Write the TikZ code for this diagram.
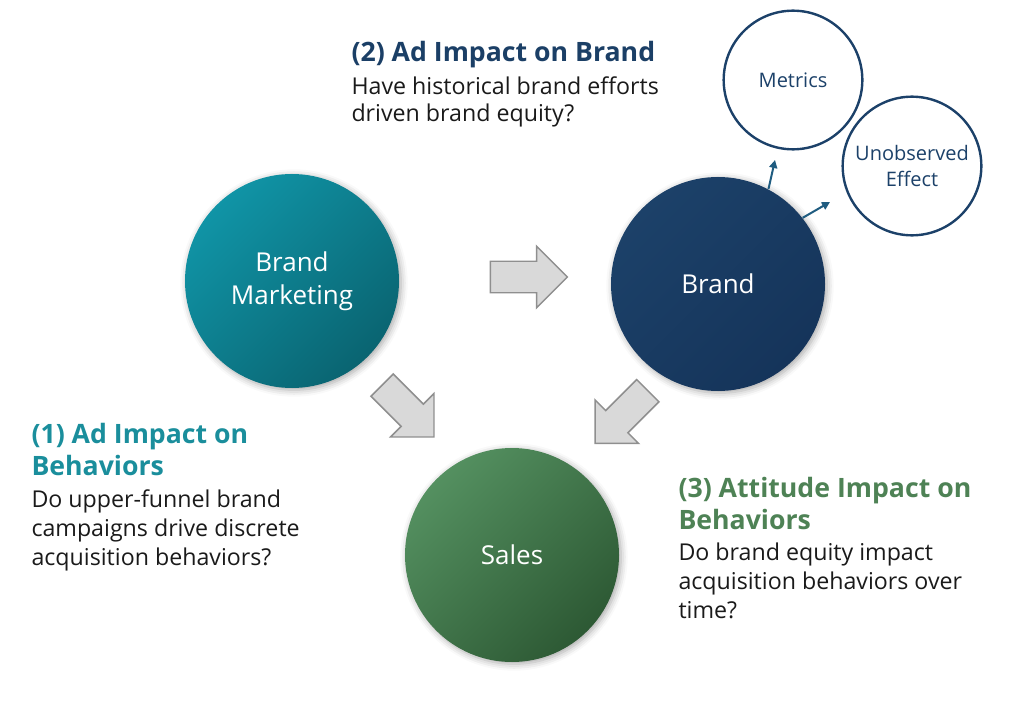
\documentclass[tikz,border=0pt]{standalone}
\usepackage{fontspec}
\setmainfont{Open Sans}
\usetikzlibrary{shapes.arrows,arrows.meta,shadows.blur}

\definecolor{tealbrand}{HTML}{1094A6}
\definecolor{tealdark}{HTML}{0A6471}
\definecolor{navybrand}{HTML}{1C4169}
\definecolor{navydark}{HTML}{15345A}
\definecolor{greensales}{HTML}{549060}
\definecolor{greendark}{HTML}{2D5934}
\definecolor{headteal}{HTML}{1A8E9C}
\definecolor{headnavy}{HTML}{1B3F66}
\definecolor{headgreen}{HTML}{4E8255}
\definecolor{arrowgray}{HTML}{D9D9D9}
\definecolor{arrowedge}{HTML}{8F8F8F}
\definecolor{pointer}{HTML}{1F5C80}
\definecolor{bodytext}{HTML}{1A1A1A}

\tikzset{every picture/.style={line width=0.75pt}}
\tikzset{
  bubble/.style={circle, minimum size=160.5pt, inner sep=0pt, align=center, text=white,
    font=\fontsize{19.5}{25}\selectfont,
    blur shadow={shadow xshift=1.5pt, shadow yshift=-1.5pt, shadow blur radius=5pt, shadow opacity=35}},
  outcome/.style={circle, draw=navybrand, line width=1.8pt, minimum size=104pt, inner sep=0pt,
    align=center, text=navybrand, font=\fontsize{15}{19.5}\selectfont},
  flowarrow/.style={single arrow, draw=arrowedge, fill=arrowgray, line width=1.1pt, inner sep=11.25pt,
    single arrow head extend=11.25pt, single arrow tip angle=90},
  pointerarrow/.style={draw=pointer, line width=1.5pt, -{Triangle[length=6pt,width=6pt]}},
  heading/.style={anchor=base west, inner sep=0pt, align=left, font=\fontsize{20}{23.5}\selectfont\bfseries},
  question/.style={anchor=base west, inner sep=0pt, align=left, text=bodytext, font=\fontsize{17.4}{21.75}\selectfont}
}

\begin{document}
\begin{tikzpicture}[x=0.75pt,y=0.75pt,yscale=-1,xscale=1]
		\useasboundingbox (0,0) rectangle (1024,702);
		
		%Circles
		\node [bubble, top color=tealbrand, bottom color=tealdark, shading angle=45] (marketing) at (292,281) {Brand\\Marketing};
		\node [bubble, top color=navybrand, bottom color=navydark, shading angle=45] (brand) at (718,284) {Brand};
		\node [bubble, top color=greensales, bottom color=greendark, shading angle=45] (sales) at (512,555) {Sales};
		
		\node [outcome] (metrics) at (793,80) {Metrics};
		\node [outcome] (unobserved) at (912,166) {Unobserved\\Effect};
		
		%Block arrows (centre sits on the shaft, not on the whole arrow)
		\node [flowarrow, minimum height=57.75pt] (toBrand) at (521,277) {};
		\node [flowarrow, minimum height=55pt, rotate=-45] (toSalesLeft) at (402.5,405.5) {};
		\node [flowarrow, minimum height=56pt, rotate=-135] (toSalesRight) at (627,411.5) {};
		
		%Pointers
		\coordinate (metricsEnd) at (775,160);
		\coordinate (unobservedEnd) at (830,202);
		\draw [pointerarrow] (brand.62) -- (metricsEnd);
		\draw [pointerarrow] (brand.38) -- (unobservedEnd);
		
		%Texts (base = last line)
		\node [heading, text=headnavy] (headBrand) at (351,62) {(2) Ad Impact on Brand};
		\node [question, font=\fontsize{17.4}{20.25}\selectfont] (askBrand) at (351,122) {Have historical brand efforts\\driven brand equity?};
		
		\node [heading, text=headteal] (headBehav) at (31,475) {(1) Ad Impact on\\Behaviors};
		\node [question] (askBehav) at (31,565) {Do upper-funnel brand\\campaigns drive discrete\\acquisition behaviors?};
		
		\node [heading, text=headgreen] (headAttitude) at (678,529) {(3) Attitude Impact on\\Behaviors};
		\node [question] (askAttitude) at (678,618) {Do brand equity impact\\acquisition behaviors over\\time?};
		
	\end{tikzpicture}
\end{document}
